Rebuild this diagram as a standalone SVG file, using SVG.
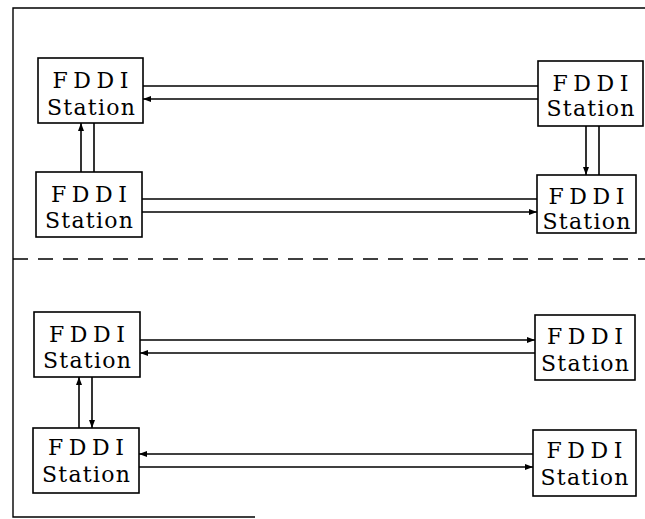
<svg xmlns="http://www.w3.org/2000/svg" width="645" height="519" viewBox="0 0 645 519">
<defs>
<marker id="ah" viewBox="0 0 8 8" refX="8" refY="4" markerWidth="8" markerHeight="8" markerUnits="userSpaceOnUse" orient="auto">
<path d="M0,1 L8,4 L0,7 Z" fill="#000"/>
</marker>
</defs>
<style>
.box{fill:#fff;stroke:#000;stroke-width:1.6}
.t{font-family:"DejaVu Serif","Liberation Serif",serif;font-size:22px;text-anchor:middle;fill:#000}
.ln{stroke:#000;stroke-width:1.6;fill:none}
.ar{marker-end:url(#ah)}
.frame{stroke:#000;stroke-width:1.4;fill:none}
</style>
<g id="frame">
<path class="frame" d="M645,8 L13,8 L13,517 L255,517"/>
<line class="frame" x1="13" y1="259" x2="645" y2="259" stroke-dasharray="15,10"/>
</g>
<g id="connectors">
<line class="ln" x1="143" y1="86" x2="538" y2="86"/>
<line class="ln ar" x1="538" y1="99" x2="143" y2="99"/>
<line class="ln ar" x1="81" y1="172" x2="81" y2="123"/>
<line class="ln" x1="94" y1="123" x2="94" y2="172"/>
<line class="ln" x1="142" y1="199" x2="537" y2="199"/>
<line class="ln ar" x1="142" y1="212" x2="537" y2="212"/>
<line class="ln ar" x1="586" y1="126" x2="586" y2="175"/>
<line class="ln" x1="599" y1="126" x2="599" y2="175"/>
<line class="ln ar" x1="140" y1="340" x2="535" y2="340"/>
<line class="ln ar" x1="535" y1="353" x2="140" y2="353"/>
<line class="ln ar" x1="79" y1="428" x2="79" y2="377"/>
<line class="ln ar" x1="92" y1="377" x2="92" y2="428"/>
<line class="ln ar" x1="533" y1="454" x2="139" y2="454"/>
<line class="ln ar" x1="139" y1="467" x2="533" y2="467"/>
</g>
<g id="n1"><rect class="box" x="38" y="58" width="105" height="65"/><text class="t" x="90.5" y="88" textLength="76" lengthAdjust="spacing">FDDI</text><text class="t" x="91" y="115" textLength="88" lengthAdjust="spacing">Station</text></g>
<g id="n2"><rect class="box" x="36" y="172" width="106" height="65"/><text class="t" x="89" y="202" textLength="76" lengthAdjust="spacing">FDDI</text><text class="t" x="89" y="228" textLength="88" lengthAdjust="spacing">Station</text></g>
<g id="n3"><rect class="box" x="538" y="61" width="105" height="65"/><text class="t" x="590.5" y="91" textLength="76" lengthAdjust="spacing">FDDI</text><text class="t" x="590.5" y="116" textLength="88" lengthAdjust="spacing">Station</text></g>
<g id="n4"><rect class="box" x="537" y="175" width="99" height="58"/><text class="t" x="586.5" y="204" textLength="76" lengthAdjust="spacing">FDDI</text><text class="t" x="586.5" y="229" textLength="88" lengthAdjust="spacing">Station</text></g>
<g id="n5"><rect class="box" x="34" y="312" width="106" height="65"/><text class="t" x="87" y="342" textLength="76" lengthAdjust="spacing">FDDI</text><text class="t" x="87" y="368" textLength="88" lengthAdjust="spacing">Station</text></g>
<g id="n6"><rect class="box" x="33" y="428" width="106" height="65"/><text class="t" x="86" y="455" textLength="76" lengthAdjust="spacing">FDDI</text><text class="t" x="86" y="482" textLength="88" lengthAdjust="spacing">Station</text></g>
<g id="n7"><rect class="box" x="535" y="315" width="100" height="65"/><text class="t" x="585" y="344" textLength="76" lengthAdjust="spacing">FDDI</text><text class="t" x="585" y="371" textLength="88" lengthAdjust="spacing">Station</text></g>
<g id="n8"><rect class="box" x="533" y="430" width="103" height="66"/><text class="t" x="584.5" y="458" textLength="76" lengthAdjust="spacing">FDDI</text><text class="t" x="584.5" y="485" textLength="88" lengthAdjust="spacing">Station</text></g>
</svg>
